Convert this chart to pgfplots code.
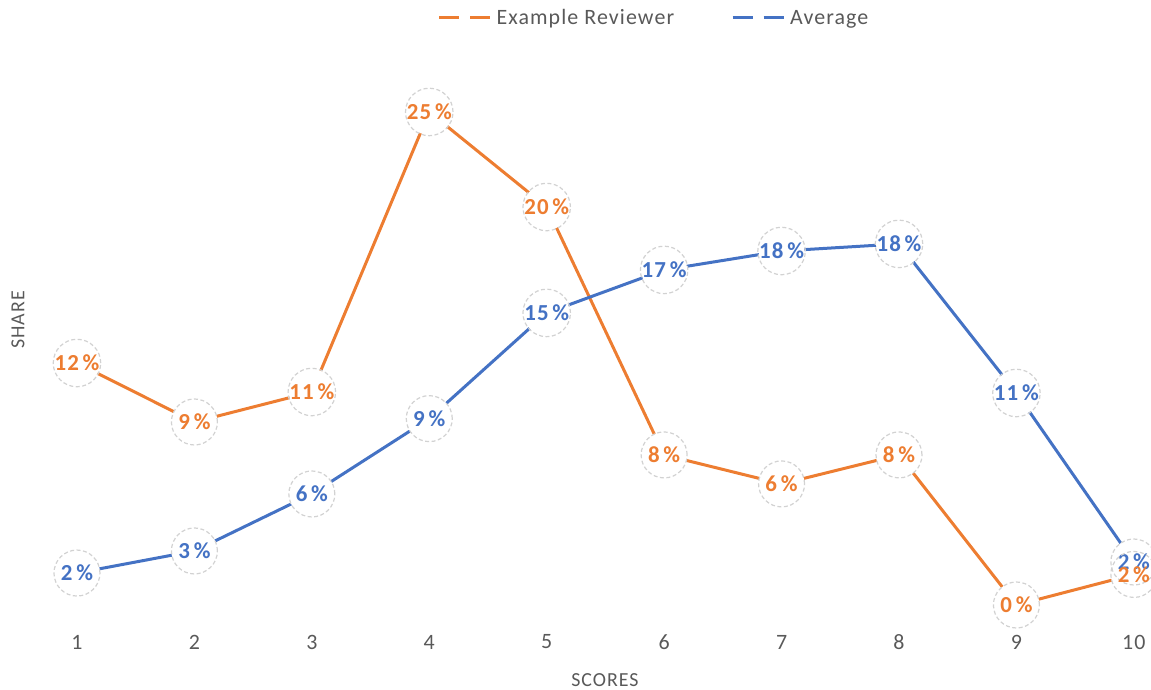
\documentclass[border=0pt]{standalone}
\usepackage{pgfplots}
\pgfplotsset{compat=1.18}
\usepackage{pgfplotstable}
\usepackage{fontspec}
\setmainfont{Carlito}[LetterSpace=5]
\definecolor{cOrange}{HTML}{ED7D31}
\definecolor{cBlue}{HTML}{4472C4}
\definecolor{cText}{HTML}{595959}
\pgfplotstableread{
x y lab
1 12.27 12
2 9.28 9
3 10.80 11
4 25.00 25
5 20.18 20
6 7.61 8
7 6.14 6
8 7.61 8
9 0.00 0
10 1.55 2
}\reviewer
\pgfplotstableread{
x y lab
1 1.62 2
2 2.74 3
3 5.63 6
4 9.45 9
5 14.81 15
6 16.99 17
7 17.95 18
8 18.31 18
9 10.75 11
10 2.18 2
}\average
\pgfplotsset{
  bgnode/.style={draw=none, forget plot, point meta=explicit,
    nodes near coords={},
    every node near coord/.style={anchor=center, circle, minimum size=46bp, inner sep=0pt,
      fill=white, draw=none}},
  lblnode/.style={draw=none, forget plot, point meta=explicit,
    nodes near coords={\pgfmathprintnumber[int detect]{\pgfplotspointmeta}\,\%},
    every node near coord/.style={anchor=center, circle, minimum size=46bp, inner sep=0pt,
      fill=none, draw=gray!35, line width=1.2bp, dash pattern=on 4bp off 2.5bp,
      text=#1, font=\bfseries\fontsize{23}{24}\selectfont}},
}
\begin{document}
\begin{tikzpicture}[x=1bp,y=1bp]
\path[use as bounding box] (0,0) rectangle (1151,690);
\begin{axis}[
  at={(30bp,62bp)}, anchor=south west,
  scale only axis,
  width=1115.7bp, height=588bp,
  xmin=0.6, xmax=10.1,
  ymin=-1.166, ymax=28.65,
  axis line style={draw=none},
  major tick length=0pt,
  ytick=\empty,
  xtick={1,...,10},
  /pgf/number format/assume math mode=true,
  tick label style={font=\fontsize{22}{24}\selectfont, text=cText},
  xticklabel style={anchor=center, yshift=-14bp},
  xlabel={SCORES},
  ylabel={SHARE},
  label style={font=\fontsize{20}{22}\selectfont, text=cText},
  xlabel style={at={(axis description cs:0.5154,-0.0884)}, anchor=center},
  ylabel style={at={(axis description cs:-0.0108,0.5238)}, anchor=center, rotate=0},
  legend columns=2,
  legend style={at={(axis description cs:0.5593,1.0374)}, anchor=center, draw=none, fill=none,
    font=\fontsize{22}{24}\selectfont, text=cText,
    /tikz/every even column/.append style={column sep=55bp}},
  legend cell align=left,
  legend image code/.code={\draw[#1, dash pattern=on 20bp off 11bp, line width=3bp] (0bp,0bp) -- (54bp,0bp);},
  clip=false,
]
\addplot[cOrange, line width=3bp] table[x=x,y=y] {\reviewer};
\addlegendentry{Example Reviewer}
\addplot[cBlue, line width=3bp] table[x=x,y=y] {\average};
\addlegendentry{Average}
\addplot[bgnode] table[x=x,y=y,meta=lab] {\average};
\addplot[bgnode] table[x=x,y=y,meta=lab] {\reviewer};
\addplot[lblnode=cBlue] table[x=x,y=y,meta=lab] {\average};
\addplot[lblnode=cOrange] table[x=x,y=y,meta=lab] {\reviewer};
\end{axis}
\end{tikzpicture}
\end{document}
